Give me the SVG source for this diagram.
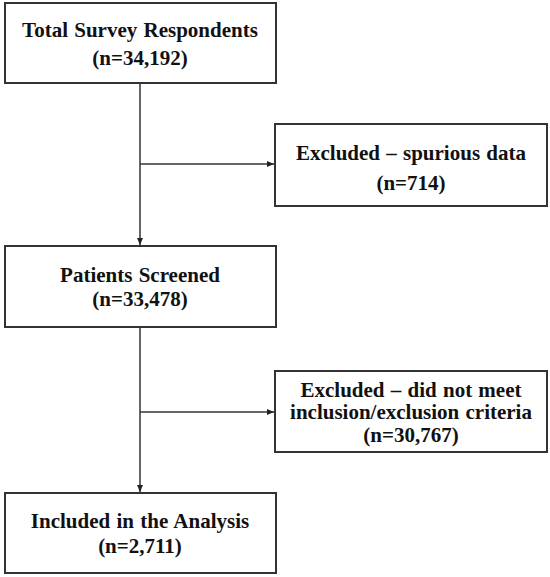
<svg xmlns="http://www.w3.org/2000/svg" width="550" height="577" viewBox="0 0 550 577">
<style>
.box{fill:#fff;stroke:#333;stroke-width:2}
.t{font-family:"Liberation Serif","Times New Roman",serif;font-weight:bold;font-size:21px;fill:#111;text-anchor:middle;word-spacing:1px}
.c{stroke:#333;stroke-width:1.5;fill:none}
</style>
<defs>
<marker id="ah" markerWidth="8" markerHeight="8" refX="7" refY="4" orient="auto" markerUnits="userSpaceOnUse">
<path d="M0,1 L7,4 L0,7 Z" fill="#222"/>
</marker>
</defs>
<rect width="550" height="577" fill="#fff"/>
<g id="connectors">
<line class="c" x1="140" y1="84" x2="140" y2="245" marker-end="url(#ah)"/>
<line class="c" x1="140" y1="164" x2="274" y2="164" marker-end="url(#ah)"/>
<line class="c" x1="140" y1="328" x2="140" y2="492" marker-end="url(#ah)"/>
<line class="c" x1="140" y1="412" x2="274" y2="412" marker-end="url(#ah)"/>
</g>
<g id="n1">
<rect class="box" x="5" y="3" width="271" height="80"/>
<text class="t" x="140" y="37">Total Survey Respondents</text>
<text class="t" x="140" y="65">(n=34,192)</text>
</g>
<g id="n2">
<rect class="box" x="275" y="124" width="272" height="82"/>
<text class="t" x="411" y="160">Excluded – spurious data</text>
<text class="t" x="411" y="190">(n=714)</text>
</g>
<g id="n3">
<rect class="box" x="5" y="246" width="271" height="81"/>
<text class="t" x="140" y="282">Patients Screened</text>
<text class="t" x="140" y="306">(n=33,478)</text>
</g>
<g id="n4">
<rect class="box" x="275" y="371" width="272" height="81"/>
<text class="t" x="411" y="397">Excluded – did not meet</text>
<text class="t" x="411" y="419">inclusion/exclusion criteria</text>
<text class="t" x="411" y="442">(n=30,767)</text>
</g>
<g id="n5">
<rect class="box" x="5" y="493" width="271" height="80"/>
<text class="t" x="140" y="528">Included in the Analysis</text>
<text class="t" x="140" y="553">(n=2,711)</text>
</g>
</svg>
